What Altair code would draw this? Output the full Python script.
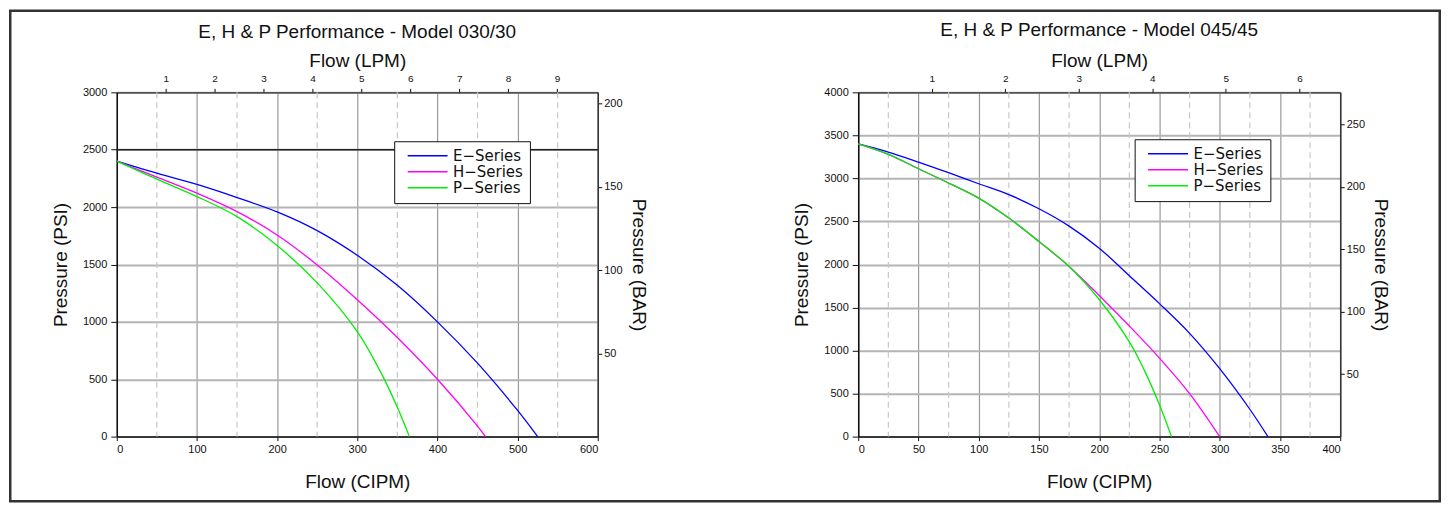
import altair as alt
import pandas as pd

CIPM_PER_LPM = 61.0237
PSI_PER_BAR = 14.5038

SERIES = ["E\u2212Series", "H\u2212Series", "P\u2212Series"]
COLORS = ["#0000ff", "#ff00ff", "#00ee00"]

# ---- Model 030/30 ----
TITLE_030 = "E, H & P Performance - Model 030/30"
E030_cipm = [0, 50, 100, 150, 200, 250, 300, 350, 400, 450, 500, 525]
E030_psi = [2400, 2296, 2197, 2083, 1958, 1795, 1580, 1318, 1000, 640, 228, 0]
H030_cipm = [0, 50, 100, 150, 200, 250, 300, 350, 400, 450, 460]
H030_psi = [2400, 2261, 2121, 1961, 1757, 1496, 1193, 864, 500, 92, 0]
P030_cipm = [0, 50, 100, 150, 200, 250, 300, 333, 350, 365]
P030_psi = [2400, 2243, 2092, 1917, 1665, 1340, 915, 510, 255, 0]
CIPM_TICKS_030 = [0, 100, 200, 300, 400, 500, 600]
CIPM_DASH_030 = [50, 150, 250, 350, 450, 550]
PSI_TICKS_030 = [0, 500, 1000, 1500, 2000, 2500, 3000]
LPM_TICKS_030 = [1, 2, 3, 4, 5, 6, 7, 8, 9]
BAR_TICKS_030 = [50, 100, 150, 200]
HLINE_030 = [2500]

# ---- Model 045/45 ----
TITLE_045 = "E, H & P Performance - Model 045/45"
E045_cipm = [0, 25, 50, 75, 100, 125, 150, 175, 200, 225, 250, 275, 300, 325, 340]
E045_psi = [3400, 3306, 3190, 3066, 2938, 2812, 2647, 2446, 2190, 1868, 1545, 1200, 790, 318, 0]
H045_cipm = [0, 25, 50, 75, 100, 125, 150, 175, 200, 225, 250, 275, 300]
H045_psi = [3400, 3279, 3112, 2946, 2771, 2539, 2267, 1977, 1640, 1285, 912, 500, 0]
P045_cipm = [0, 25, 50, 75, 100, 125, 150, 175, 200, 225, 237.5, 250, 260]
P045_psi = [3400, 3279, 3112, 2946, 2771, 2539, 2267, 1977, 1593, 1100, 770, 370, 0]
CIPM_TICKS_045 = [0, 50, 100, 150, 200, 250, 300, 350, 400]
CIPM_DASH_045 = [25, 75, 125, 175, 225, 275, 325, 375]
PSI_TICKS_045 = [0, 500, 1000, 1500, 2000, 2500, 3000, 3500, 4000]
LPM_TICKS_045 = [1, 2, 3, 4, 5, 6]
BAR_TICKS_045 = [50, 100, 150, 200, 250]
HLINE_045 = []

FONT = "Liberation Sans"
PLOT_H = 345
INK = "#111"


def panel(title, curves, cipm_ticks, dash_vals, psi_ticks, lpm_ticks, bar_ticks,
          hlines, legend_xy, width, title_offset, frame=False):
    rows = []
    for name, xs, ys in curves:
        for x, y in zip(xs, ys):
            rows.append({"series": name, "cipm": x, "psi": y})
    df = pd.DataFrame(rows)
    cmax = cipm_ticks[-1]
    pmax = psi_ticks[-1]
    xsc = alt.Scale(domain=[0, cmax], nice=False, zero=True)
    ysc = alt.Scale(domain=[0, pmax], nice=False, zero=True)

    x_axis = alt.Axis(
        orient="bottom", values=cipm_ticks, format="d", grid=True, gridColor="#9a9a9a",
        gridWidth=1.2, domainColor=INK, domainWidth=1.5, tickColor=INK,
        tickSize=4, labelFontSize=11, labelPadding=3, labelColor=INK,
        title="Flow (CIPM)", titleFontSize=19, titleFontWeight="normal",
        titlePadding=18, titleColor=INK)
    y_axis = alt.Axis(
        orient="left", values=psi_ticks, format="d", grid=True, gridColor="#b4b4b4",
        gridWidth=2, domainColor=INK, domainWidth=1.5, tickColor=INK,
        tickSize=6, labelFontSize=11, labelPadding=4, labelColor=INK,
        title="Pressure (PSI)", titleFontSize=19, titleFontWeight="normal",
        titlePadding=12, titleColor=INK)

    dashed = alt.Chart(pd.DataFrame({"cipm": dash_vals})).mark_rule(
        color="#c8c8c8", strokeDash=[6, 4], strokeWidth=1.2
    ).encode(x=alt.X("cipm:Q", scale=xsc, axis=x_axis))

    lines = alt.Chart(df).mark_line(strokeWidth=1.3, interpolate="catmull-rom").encode(
        x=alt.X("cipm:Q", scale=xsc, axis=x_axis),
        y=alt.Y("psi:Q", scale=ysc, axis=y_axis),
        color=alt.Color("series:N", scale=alt.Scale(domain=SERIES, range=COLORS),
                        legend=alt.Legend(
                            orient="none", legendX=legend_xy[0], legendY=legend_xy[1],
                            title=None, strokeColor=INK, fillColor="white",
                            padding=7, symbolType="M-0.2,0H7.8", symbolSize=100,
                            symbolStrokeWidth=1.5, labelFont="DejaVu Sans",
                            labelFontSize=15, labelColor=INK, rowPadding=0,
                            labelOffset=37)),
    )

    layers = [dashed]
    if hlines:
        hl = alt.Chart(pd.DataFrame({"psi": hlines})).mark_rule(
            color="#222", strokeWidth=1.5
        ).encode(y=alt.Y("psi:Q", scale=ysc, axis=y_axis))
        layers.append(hl)
    layers.append(lines)
    if frame:
        fr = alt.Chart(pd.DataFrame({"frame": [1]})).mark_rect(
            filled=False, stroke="#333", strokeWidth=2.5
        ).encode(x=alt.value(-106.75), x2=alt.value(1325.75),
                 y=alt.value(-81.75), y2=alt.value(409.75))
        layers.append(fr)
    main = alt.layer(*layers)

    lpm = alt.Chart(pd.DataFrame({"lpm": lpm_ticks})).mark_point(opacity=0).encode(
        x=alt.X("lpm:Q", scale=alt.Scale(domain=[0, cmax / CIPM_PER_LPM], nice=False, zero=True),
                axis=alt.Axis(orient="top", values=lpm_ticks, format="d", grid=False,
                              domainColor="#333", domainWidth=1.2, tickColor=INK,
                              tickSize=4, labelFontSize=10, labelPadding=5,
                              labelColor=INK, title="Flow (LPM)", titleFontSize=19,
                              titleFontWeight="normal", titlePadding=3,
                              titleColor=INK)))

    bar = alt.Chart(pd.DataFrame({"bar": bar_ticks})).mark_point(opacity=0).encode(
        y=alt.Y("bar:Q", scale=alt.Scale(domain=[0, pmax / PSI_PER_BAR], nice=False, zero=True),
                axis=alt.Axis(orient="right", values=bar_ticks, format="d", grid=False,
                              domainColor="#333", domainWidth=1.5, tickColor=INK,
                              tickSize=4, labelFontSize=11, labelPadding=2,
                              labelColor=INK, title="Pressure (BAR)",
                              titleFontSize=19, titleFontWeight="normal",
                              titlePadding=6, titleColor=INK)))

    return alt.layer(main, lpm, bar).resolve_scale(
        x="independent", y="independent"
    ).properties(
        width=width, height=PLOT_H,
        title=alt.TitleParams(title, fontSize=19, font=FONT, fontWeight="normal",
                              anchor="middle", frame="group", offset=title_offset,
                              color=INK),
    )


left = panel(TITLE_030,
             [(SERIES[0], E030_cipm, E030_psi), (SERIES[1], H030_cipm, H030_psi),
              (SERIES[2], P030_cipm, P030_psi)],
             CIPM_TICKS_030, CIPM_DASH_030, PSI_TICKS_030, LPM_TICKS_030,
             BAR_TICKS_030, HLINE_030, (278, 49), 482, -33, frame=True)
right = panel(TITLE_045,
              [(SERIES[0], E045_cipm, E045_psi), (SERIES[1], H045_cipm, H045_psi),
               (SERIES[2], P045_cipm, P045_psi)],
              CIPM_TICKS_045, CIPM_DASH_045, PSI_TICKS_045, LPM_TICKS_045,
              BAR_TICKS_045, HLINE_045, (277, 47), 483, 11)

chart = alt.hconcat(left, right, spacing=261, bounds="flush").resolve_scale(
    color="independent"
).resolve_legend(color="independent").properties(
    padding=0, background="white"
).configure(font=FONT).configure_view(stroke="#999")

chart.save("out.html", embed_options={"renderer": "svg", "actions": False})
